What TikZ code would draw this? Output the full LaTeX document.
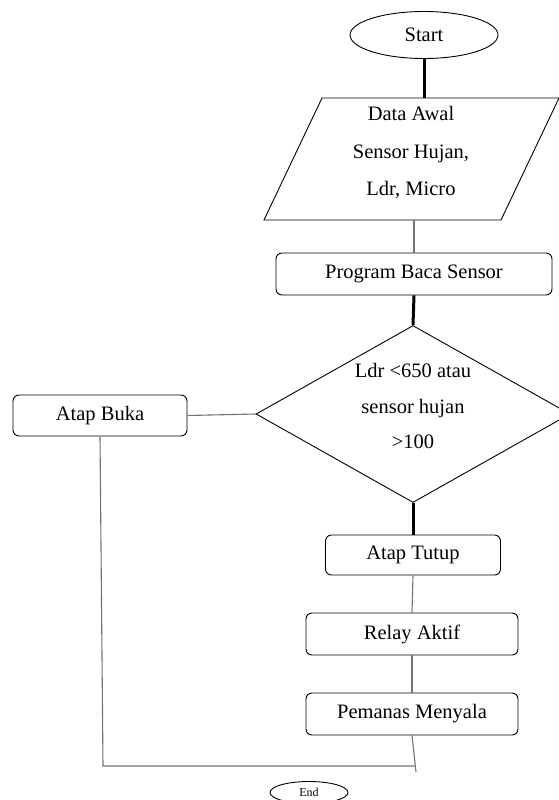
\documentclass[tikz,border=0pt]{standalone}
\usepackage{fontspec}
\setmainfont{Liberation Serif}
\usetikzlibrary{shapes.geometric}
\begin{document}
\begin{tikzpicture}[x=1pt,y=-1pt,
  txt/.style={font=\fontsize{20.5}{36}\selectfont, inner sep=0},
  outline/.style={draw=black, line width=0.9pt},
  box/.style={outline, txt, rounded corners=6pt},
  thinline/.style={draw=black!55, line width=1.1pt},
  thickline/.style={draw=black, line width=3pt}]
\useasboundingbox (0,0) rectangle (558,800);
% start
\node[outline, ellipse, txt, minimum width=148, minimum height=47] (start) at (424,35) {Start};
% data parallelogram
\coordinate (pa) at (322,98);
\coordinate (pb) at (559,98);
\coordinate (pc) at (501,220);
\coordinate (pd) at (264,220);
\draw[outline] (pa) -- (pb) -- (pc) -- (pd) -- cycle;
\node[txt, align=center, font=\fontsize{20.5}{37.5}\selectfont] (data) at (411,152.5) {Data Awal\\Sensor Hujan,\\Ldr, Micro};
\coordinate (dtop) at (424,98);
\coordinate (dbot) at (414,220);
% program
\node[box, minimum width=276, minimum height=42] (prog) at (414,274) {Program Baca Sensor};
% decision
\node[outline, diamond, minimum width=314, minimum height=177, inner sep=0] (dec) at (413,414) {};
\node[txt, align=center, font=\fontsize{20.5}{35.5}\selectfont] (dectext) at (413,406) {Ldr <650 atau\\sensor hujan\\>100};
% atap buka
\node[box, minimum width=174, minimum height=41] (buka) at (100,415.5) {Atap Buka};
% sequence
\node[box, minimum width=175, minimum height=40] (tutup) at (413,555) {Atap Tutup};
\node[box, minimum width=212, minimum height=42] (relay) at (412,634) {Relay Aktif};
\node[box, minimum width=212, minimum height=42] (pemanas) at (412,714) {Pemanas Menyala};
% end
\node[outline, ellipse, inner sep=0, minimum width=78, minimum height=22, font=\fontsize{12}{14}\selectfont] (end) at (309,792.5) {End};
% connectors
\coordinate (corner) at (103,766);
\coordinate (join) at (415,766);
\coordinate (tail) at (416,772);
\draw[thickline] (start.south) -- (dtop);
\draw[thinline] (dbot) -- (prog.north);
\draw[thickline] (prog.south) -- (dec.north);
\draw[thinline] (dec.west) -- (buka.east);
\draw[thickline] (dec.south) -- (tutup.north);
\draw[thinline] (tutup.south) -- (relay.north);
\draw[thinline] (relay.south) -- (pemanas.north);
\draw[thinline] (pemanas.south) -- (tail);
\draw[thinline] (buka.south) -- (corner) -- (join);
\end{tikzpicture}
\end{document}
